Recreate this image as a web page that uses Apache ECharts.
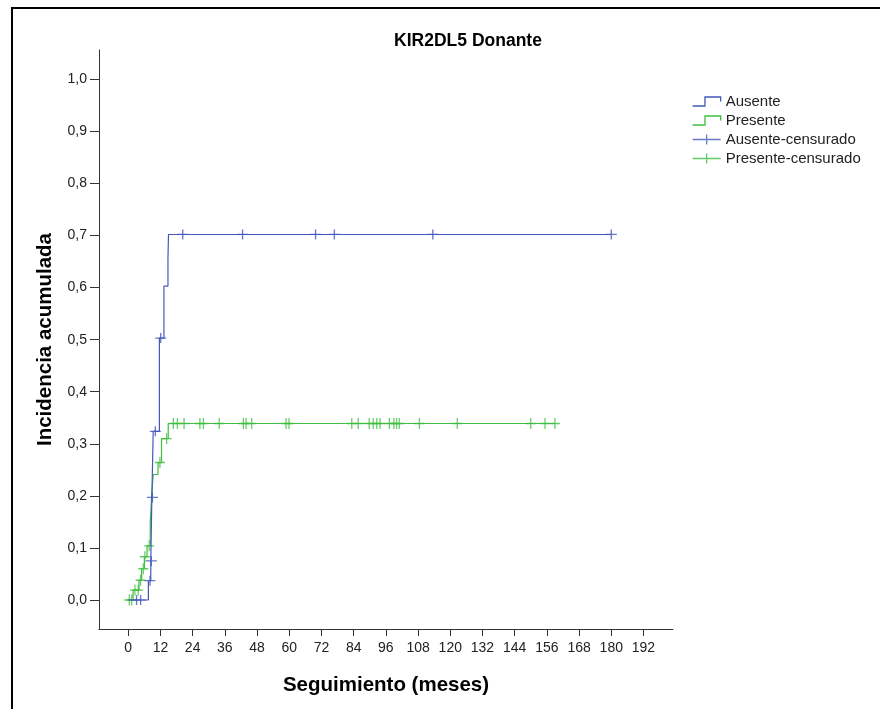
<!DOCTYPE html>
<html>
<head>
<meta charset="utf-8">
<title>KIR2DL5 Donante</title>
<script src="https://cdn.jsdelivr.net/npm/echarts@6/dist/echarts.min.js"></script>
<style>
  html, body { margin: 0; padding: 0; background: #ffffff; }
  #chart { width: 880px; height: 709px; }
</style>
</head>
<body>
<div id="chart"></div>
<script>
// Axis tick values
const xTicks = [0, 12, 24, 36, 48, 60, 72, 84, 96, 108, 120, 132, 144, 156, 168, 180, 192];
const yTicks = [0, 0.1, 0.2, 0.3, 0.4, 0.5, 0.6, 0.7, 0.8, 0.9, 1.0];

// Ausente: event times (months) and cumulative incidence after each event
const ausenteTimes = [0, 7.5, 8.4, 8.8, 9.3, 11.6, 13.3, 14.8, 15.0, 180];
const ausenteInc   = [0, 0.037, 0.075, 0.197, 0.324, 0.503, 0.603, 0.656, 0.702, 0.702];
// Ausente: censored observations
const ausenteCensTimes = [3.1, 4.6, 8.1, 8.6, 9.0, 10.1, 12.1, 20.3, 42.6, 69.8, 76.8, 113.5, 180];
const ausenteCensInc   = [0, 0, 0.037, 0.075, 0.197, 0.324, 0.503, 0.702, 0.702, 0.702, 0.702, 0.702, 0.702];

// Presente: event times (months) and cumulative incidence after each event
const presenteTimes = [0, 1.8, 4.0, 5.0, 6.0, 7.0, 8.2, 8.7, 9.3, 11.1, 12.4, 14.9, 159];
const presenteInc   = [0, 0.019, 0.038, 0.060, 0.083, 0.104, 0.150, 0.197, 0.241, 0.264, 0.310, 0.339, 0.339];
// Presente: censored observations
const presenteCensTimes = [0.4, 1.3, 2.5, 3.7, 4.6, 5.6, 6.2, 7.8, 11.8, 14.3,
  16.8, 18.3, 20.8, 26.7, 28.0, 33.9, 42.9, 43.9, 46.0, 58.8, 59.9,
  83.3, 85.7, 89.8, 91.3, 92.6, 93.8, 97.3, 99.0, 100.0, 101.0, 108.5, 122.6, 150.0, 155.3, 159.0];
const presenteCensInc = [0, 0, 0.019, 0.019, 0.038, 0.060, 0.083, 0.104, 0.264, 0.310,
  0.339, 0.339, 0.339, 0.339, 0.339, 0.339, 0.339, 0.339, 0.339, 0.339, 0.339,
  0.339, 0.339, 0.339, 0.339, 0.339, 0.339, 0.339, 0.339, 0.339, 0.339, 0.339, 0.339, 0.339, 0.339, 0.339];

const BLUE = '#4258bd';
const GREEN = '#3fbe3f';
const FONT = '"Liberation Sans", Arial, sans-serif';

const pairs = (xs, ys) => xs.map((x, i) => [x, ys[i]]);

const crossSymbol = 'path://M0,5 L10,5 M5,0 L5,10';
const stepIcon = 'path://M0,9 L11,9 L11,1 L25,1 L25,5';
const crossIcon = 'path://M0,5 L28,5 M14,0 L14,10';

const chart = echarts.init(document.getElementById('chart'), null, { renderer: 'canvas' });

chart.setOption({
  animation: false,
  backgroundColor: '#ffffff',
  textStyle: { fontFamily: FONT },
  title: {
    text: 'KIR2DL5 Donante',
    left: 463,
    top: 27,
    textAlign: 'center',
    textStyle: { fontFamily: FONT, fontSize: 17.5, fontWeight: 'bold', color: '#000' }
  },
  graphic: [{
    type: 'rect',
    shape: { x: 12, y: 8, width: 1000, height: 1000 },
    style: { fill: 'none', stroke: '#000', lineWidth: 2 },
    silent: true
  }],
  legend: {
    orient: 'vertical',
    left: 687,
    top: 89,
    itemWidth: 28,
    itemHeight: 10,
    itemGap: 4,
    selectedMode: false,
    textStyle: { fontFamily: FONT, fontSize: 15, color: '#222' },
    data: [
      { name: 'Ausente', icon: stepIcon, itemStyle: { color: 'rgba(0,0,0,0)', borderColor: BLUE, borderWidth: 1.3 } },
      { name: 'Presente', icon: stepIcon, itemStyle: { color: 'rgba(0,0,0,0)', borderColor: GREEN, borderWidth: 1.3 } },
      { name: 'Ausente-censurado', icon: crossIcon, itemStyle: { color: 'rgba(0,0,0,0)', borderColor: BLUE, borderWidth: 1.3 } },
      { name: 'Presente-censurado', icon: crossIcon, itemStyle: { color: 'rgba(0,0,0,0)', borderColor: GREEN, borderWidth: 1.3 } }
    ]
  },
  grid: { left: 99, top: 50, width: 574, height: 579, containLabel: false },
  xAxis: {
    type: 'value',
    min: -10.9,
    max: 203,
    name: 'Seguimiento (meses)',
    nameLocation: 'middle',
    nameGap: 46,
    nameTextStyle: { fontFamily: FONT, fontSize: 20.5, fontWeight: 'bold', color: '#000' },
    axisLine: { show: true, onZero: false, lineStyle: { color: '#333', width: 1 } },
    axisTick: { show: true, length: 7, lineStyle: { color: '#333', width: 1 }, customValues: xTicks },
    axisLabel: { fontFamily: FONT, fontSize: 14, color: '#222', margin: 12, customValues: xTicks },
    splitLine: { show: false }
  },
  yAxis: {
    type: 'value',
    min: -0.0557,
    max: 1.0563,
    name: 'Incidencia acumulada',
    nameLocation: 'middle',
    nameGap: 43,
    nameTextStyle: { fontFamily: FONT, fontSize: 20.5, fontWeight: 'bold', color: '#000' },
    axisLine: { show: true, onZero: false, lineStyle: { color: '#333', width: 1 } },
    axisTick: { show: true, length: 9, lineStyle: { color: '#333', width: 1 }, customValues: yTicks },
    axisLabel: {
      fontFamily: FONT, fontSize: 14, color: '#222', margin: 12,
      customValues: yTicks,
      formatter: v => v.toFixed(1).replace('.', ',')
    },
    splitLine: { show: false }
  },
  series: [
    {
      name: 'Presente',
      type: 'line',
      step: 'end',
      data: pairs(presenteTimes, presenteInc),
      symbol: 'none',
      lineStyle: { color: GREEN, width: 1.2 },
      itemStyle: { color: GREEN },
      z: 2
    },
    {
      name: 'Presente-censurado',
      type: 'scatter',
      data: pairs(presenteCensTimes, presenteCensInc),
      symbol: crossSymbol,
      symbolSize: [10, 11],
      itemStyle: { color: 'rgba(0,0,0,0)', borderColor: GREEN, borderWidth: 1.3 },
      z: 2
    },
    {
      name: 'Ausente',
      type: 'line',
      step: 'end',
      data: pairs(ausenteTimes, ausenteInc),
      symbol: 'none',
      lineStyle: { color: BLUE, width: 1.2 },
      itemStyle: { color: BLUE },
      z: 3
    },
    {
      name: 'Ausente-censurado',
      type: 'scatter',
      data: pairs(ausenteCensTimes, ausenteCensInc),
      symbol: crossSymbol,
      symbolSize: [11, 10],
      itemStyle: { color: 'rgba(0,0,0,0)', borderColor: BLUE, borderWidth: 1.3 },
      z: 3
    }
  ]
});
</script>
</body>
</html>
